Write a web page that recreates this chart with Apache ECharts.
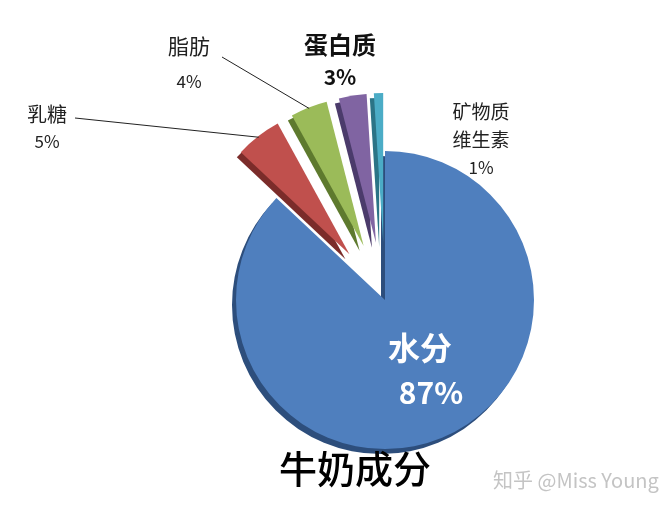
<!DOCTYPE html>
<html><head><meta charset="utf-8">
<script src="https://cdn.jsdelivr.net/npm/echarts@6/dist/echarts.min.js"></script>
<style>html,body{margin:0;padding:0;background:#fff}#c{width:672px;height:510px}</style>
</head><body><div id="c"></div>
<script>
var categories = ['水分', '乳糖', '脂肪', '蛋白质', '矿物质\n维生素'];
var values = [87, 5, 4, 3, 1];
var colors = ['#4F7FBE', '#C0504D', '#9BBB59', '#8064A2', '#4BACC6'];
var edgeColors = ['#2D4E7C', '#7B2C2A', '#5E7A2E', '#4B3B6B', '#2B7486'];
var exploded = [false, true, true, true, true];
var withLine = [false, true, true, false, false];
var titleText = '牛奶成分';
var watermark = '知乎 @Miss Young';

var labelSpots = [
  {x: 420, y: 370, lh: 45, ns: 32, ps: 30, pad: 22, color: '#fff', weight: 'bold', lx: 0, ly: 0},
  {x: 47, y: 128, lh: 27, ns: 20, ps: 17, pad: 0, color: '#222', weight: 'normal', lx: 28, ly: -10},
  {x: 189, y: 64, lh: 35, ns: 21, ps: 17, pad: 0, color: '#222', weight: 'normal', lx: 33, ly: -7},
  {x: 340, y: 61, lh: 33, ns: 24, ps: 21, pad: 0, color: '#111', weight: 'bold', lx: 0, ly: 0},
  {x: 481, y: 140, lh: 28, ns: 19, ps: 17, pad: 0, color: '#222', weight: 'normal', lx: 0, ly: 0}
];

var sliceData = categories.map(function (name, i) {
  return {
    name: name, value: values[i], selected: exploded[i],
    itemStyle: {color: colors[i], shadowColor: edgeColors[i]}
  };
});

var labelData = categories.map(function (name, i) {
  var s = labelSpots[i];
  var font = 'Noto Sans CJK SC';
  return {
    name: name, value: values[i],
    itemStyle: {color: 'rgba(0,0,0,0)'},
    label: {
      show: true, color: s.color, fontWeight: s.weight, fontFamily: font,
      rich: {
        n: {fontSize: s.ns, lineHeight: s.lh, color: s.color, fontWeight: s.weight, fontFamily: font},
        p: {fontSize: s.ps, lineHeight: s.lh, color: s.color, fontWeight: s.weight, fontFamily: font,
            padding: [0, 0, 0, s.pad]}
      }
    },
    labelLine: {show: withLine[i]}
  };
});

var chart = echarts.init(document.getElementById('c'), null, {renderer: 'canvas'});
chart.setOption({
  backgroundColor: '#fff',
  animation: false,
  title: [
    {text: titleText, left: 350, top: 445, textAlign: 'center',
     textStyle: {fontSize: 38, fontWeight: 500, color: '#000', fontFamily: 'Noto Sans CJK SC'}},
    {text: watermark, left: 488, top: 465,
     textStyle: {fontSize: 20, fontWeight: 'normal', color: '#c4c4c4', fontFamily: 'Noto Sans CJK SC'}}
  ],
  series: [{
    type: 'pie',
    center: [385, 300],
    radius: [0, 149],
    startAngle: 90,
    clockwise: true,
    selectedMode: 'multiple',
    selectedOffset: 58,
    silent: true,
    emphasis: {disabled: true},
    label: {show: false},
    labelLine: {show: false},
    itemStyle: {borderWidth: 0, shadowBlur: 0, shadowOffsetX: -4, shadowOffsetY: 5},
    data: sliceData,
    z: 2
  }, {
    type: 'pie',
    center: [385, 300],
    radius: [0, 206],
    startAngle: 90,
    clockwise: true,
    silent: true,
    selectedMode: false,
    avoidLabelOverlap: false,
    emphasis: {disabled: true},
    label: {formatter: '{n|{b}}\n{p|{c}%}', position: 'outside'},
    labelLine: {lineStyle: {color: '#222', width: 1}, length: 5, length2: 0},
    labelLayout: function (p) {
      var s = labelSpots[p.dataIndex];
      var out = {x: s.x, y: s.y, align: 'center', verticalAlign: 'middle', moveOverlap: false, hideOverlap: false};
      if (withLine[p.dataIndex] && p.labelLinePoints) {
        out.labelLinePoints = [p.labelLinePoints[0], [s.x + s.lx, s.y + s.ly]];
      }
      return out;
    },
    data: labelData,
    z: 3
  }]
});
</script></body></html>
